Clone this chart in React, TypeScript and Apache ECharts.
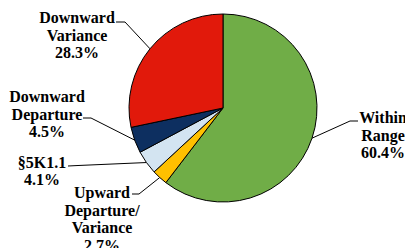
import React, { useEffect, useRef } from "react";
import * as echarts from "echarts";

const categories = [
  "Within\nRange",
  "Upward\nDeparture/\nVariance",
  "§5K1.1",
  "Downward\nDeparture",
  "Downward\nVariance",
];
const percents = [60.4, 2.7, 4.1, 4.5, 28.3];
const colors = ["#70AD47", "#FFC000", "#D3E4F1", "#0D2F60", "#E1190B"];

// label placement (style): label center x/y, elbow and end of leader line
const labelPos = [
  { x: 383, y: 135, elbow: [350, 121], end: [358, 121] },
  { x: 102, y: 219, elbow: [139, 194], end: [132, 194] },
  { x: 42, y: 171, elbow: [78, 165.5], end: [68, 166] },
  { x: 47, y: 114, elbow: [91, 118], end: [83, 118] },
  { x: 77, y: 35, elbow: [125, 22], end: [116, 22] },
];

const FONT = "Liberation Serif";

export default function App() {
  const ref = useRef<HTMLDivElement>(null);
  useEffect(() => {
    if (!ref.current) return;
    const chart = echarts.init(ref.current, null, { renderer: "svg" });
    chart.setOption({
      animation: false,
      series: [
        {
          type: "pie",
          center: [223, 108],
          radius: 94,
          startAngle: 90,
          clockwise: true,
          avoidLabelOverlap: false,
          data: categories.map((c, i) => ({
            name: c,
            value: percents[i],
            itemStyle: { color: colors[i] },
          })),
          itemStyle: { borderColor: "#000", borderWidth: 1 },
          label: {
            show: true,
            formatter: (p: any) => `${p.name}\n${p.value.toFixed(1)}%`,
            fontFamily: FONT,
            fontWeight: "bold",
            fontSize: 16,
            lineHeight: 17.5,
            color: "#000",
            align: "center",
          },
          labelLine: {
            show: true,
            lineStyle: { color: "#000", width: 1 },
          },
          labelLayout: (params: any) => {
            const lp = labelPos[params.dataIndex];
            const pts = params.labelLinePoints;
            const start = pts ? pts[0] : lp.elbow;
            return {
              x: lp.x,
              y: lp.y,
              align: "center",
              verticalAlign: "middle",
              labelLinePoints: [start, lp.elbow, lp.end],
            };
          },
        },
      ],
    });
    return () => chart.dispose();
  }, []);
  return (
    <>
      <style>{`.pie-chart text, .pie-chart tspan { font-family: "Liberation Serif", "Times New Roman", serif !important; font-weight: bold !important; font-size: 16px !important; }`}</style>
      <div
        ref={ref}
        className="pie-chart"
        style={{ position: "fixed", left: 0, top: 0, width: 405, height: 248, background: "#fff" }}
      />
    </>
  );
}
